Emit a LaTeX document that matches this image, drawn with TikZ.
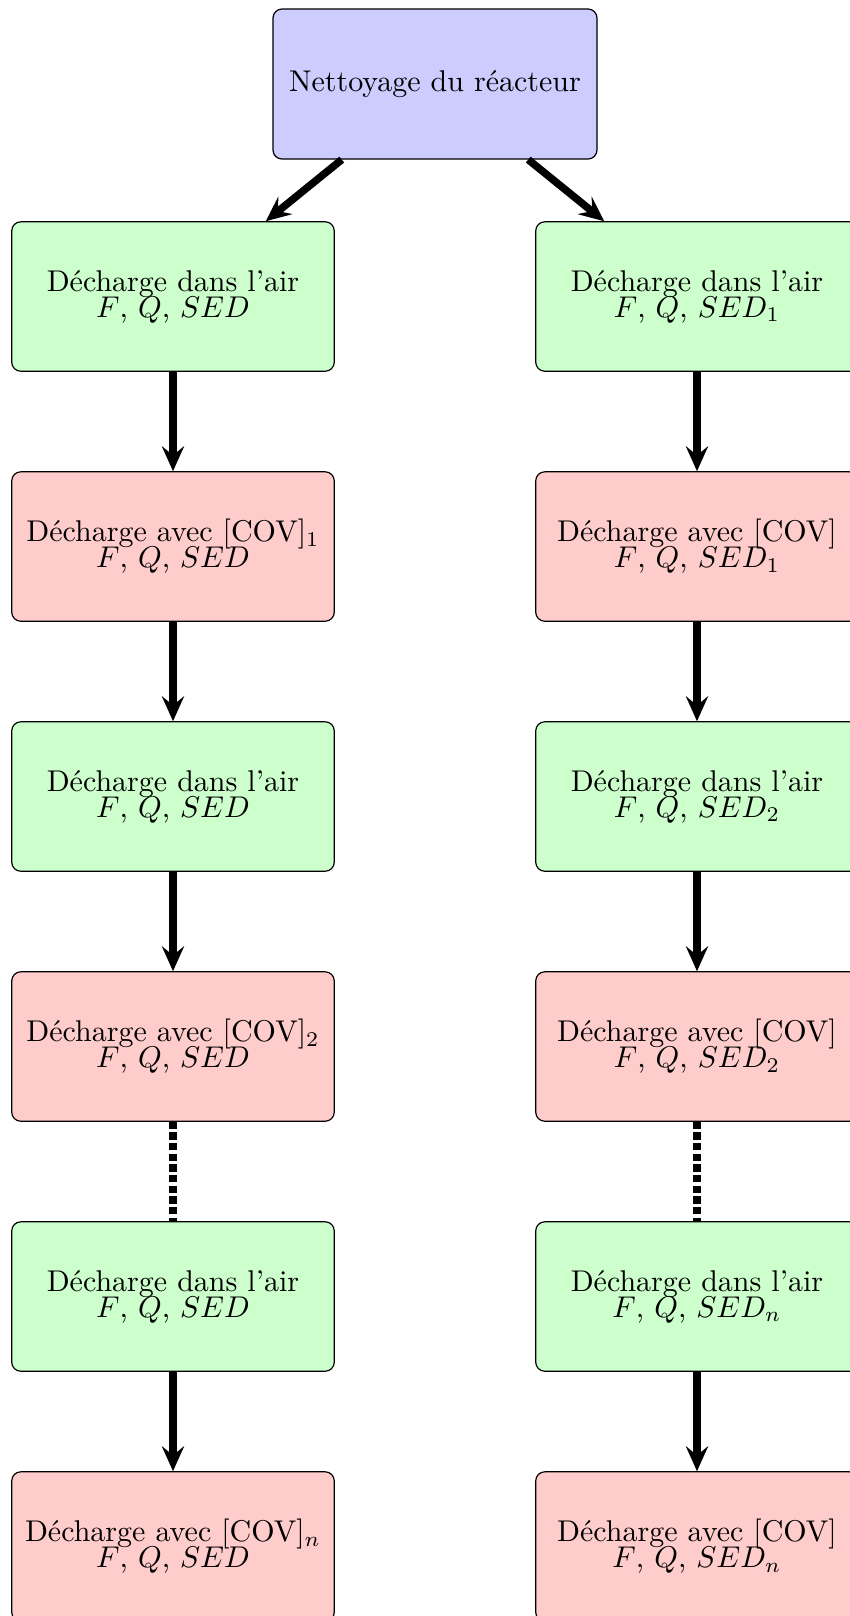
\documentclass[tikz,border=0pt]{standalone}
\usetikzlibrary{arrows.meta}
\begin{document}
\begin{tikzpicture}[x=0.33333pt, y=-0.33333pt,
  box/.style={draw=black, line width=0.4pt, rounded corners=3pt, align=center,
    minimum width=107.5pt, minimum height=49.8pt, inner sep=2pt},
  airbox/.style={box, fill=green!20},
  covbox/.style={box, fill=red!20},
  topbox/.style={box, fill=blue!20, minimum width=108pt, minimum height=50pt},
  flow/.style={line width=2.5pt, -{Stealth[length=8.3pt, width=7.4pt, inset=3pt]}},
  gap/.style={line width=2.5pt, dash pattern=on 2.4pt off 1.15pt}
]
\useasboundingbox (0,0) rectangle (850,1616);
\clip (0,0) rectangle (850,1616);

\node[topbox] (top) at (435,84) {Nettoyage du réacteur};

\node[airbox] (l1) at (173,296.5) {Décharge dans l'air\\[-3.3pt] $F$, $Q$, $SED$};
\node[covbox] (l2) at (173,546.5) {Décharge avec [COV]$_1$\\[-3.3pt] $F$, $Q$, $SED$};
\node[airbox] (l3) at (173,796.5) {Décharge dans l'air\\[-3.3pt] $F$, $Q$, $SED$};
\node[covbox] (l4) at (173,1046.5) {Décharge avec [COV]$_2$\\[-3.3pt] $F$, $Q$, $SED$};
\node[airbox] (l5) at (173,1296.5) {Décharge dans l'air\\[-3.3pt] $F$, $Q$, $SED$};
\node[covbox] (l6) at (173,1546.5) {Décharge avec [COV]$_n$\\[-3.3pt] $F$, $Q$, $SED$};

\node[airbox] (r1) at (697,296.5) {Décharge dans l'air\\[-3.3pt] $F$, $Q$, $SED_1$};
\node[covbox] (r2) at (697,546.5) {Décharge avec [COV]\\[-3.3pt] $F$, $Q$, $SED_1$};
\node[airbox] (r3) at (697,796.5) {Décharge dans l'air\\[-3.3pt] $F$, $Q$, $SED_2$};
\node[covbox] (r4) at (697,1046.5) {Décharge avec [COV]\\[-3.3pt] $F$, $Q$, $SED_2$};
\node[airbox] (r5) at (697,1296.5) {Décharge dans l'air\\[-3.3pt] $F$, $Q$, $SED_n$};
\node[covbox] (r6) at (697,1546.5) {Décharge avec [COV]\\[-3.3pt] $F$, $Q$, $SED_n$};

\draw[flow] (top) -- (l1);
\draw[flow] (top) -- (r1);

\draw[flow] (l1) -- (l2);
\draw[flow] (l2) -- (l3);
\draw[flow] (l3) -- (l4);
\draw[gap] (l4) -- (l5);
\draw[flow] (l5) -- (l6);

\draw[flow] (r1) -- (r2);
\draw[flow] (r2) -- (r3);
\draw[flow] (r3) -- (r4);
\draw[gap] (r4) -- (r5);
\draw[flow] (r5) -- (r6);
\end{tikzpicture}
\end{document}
